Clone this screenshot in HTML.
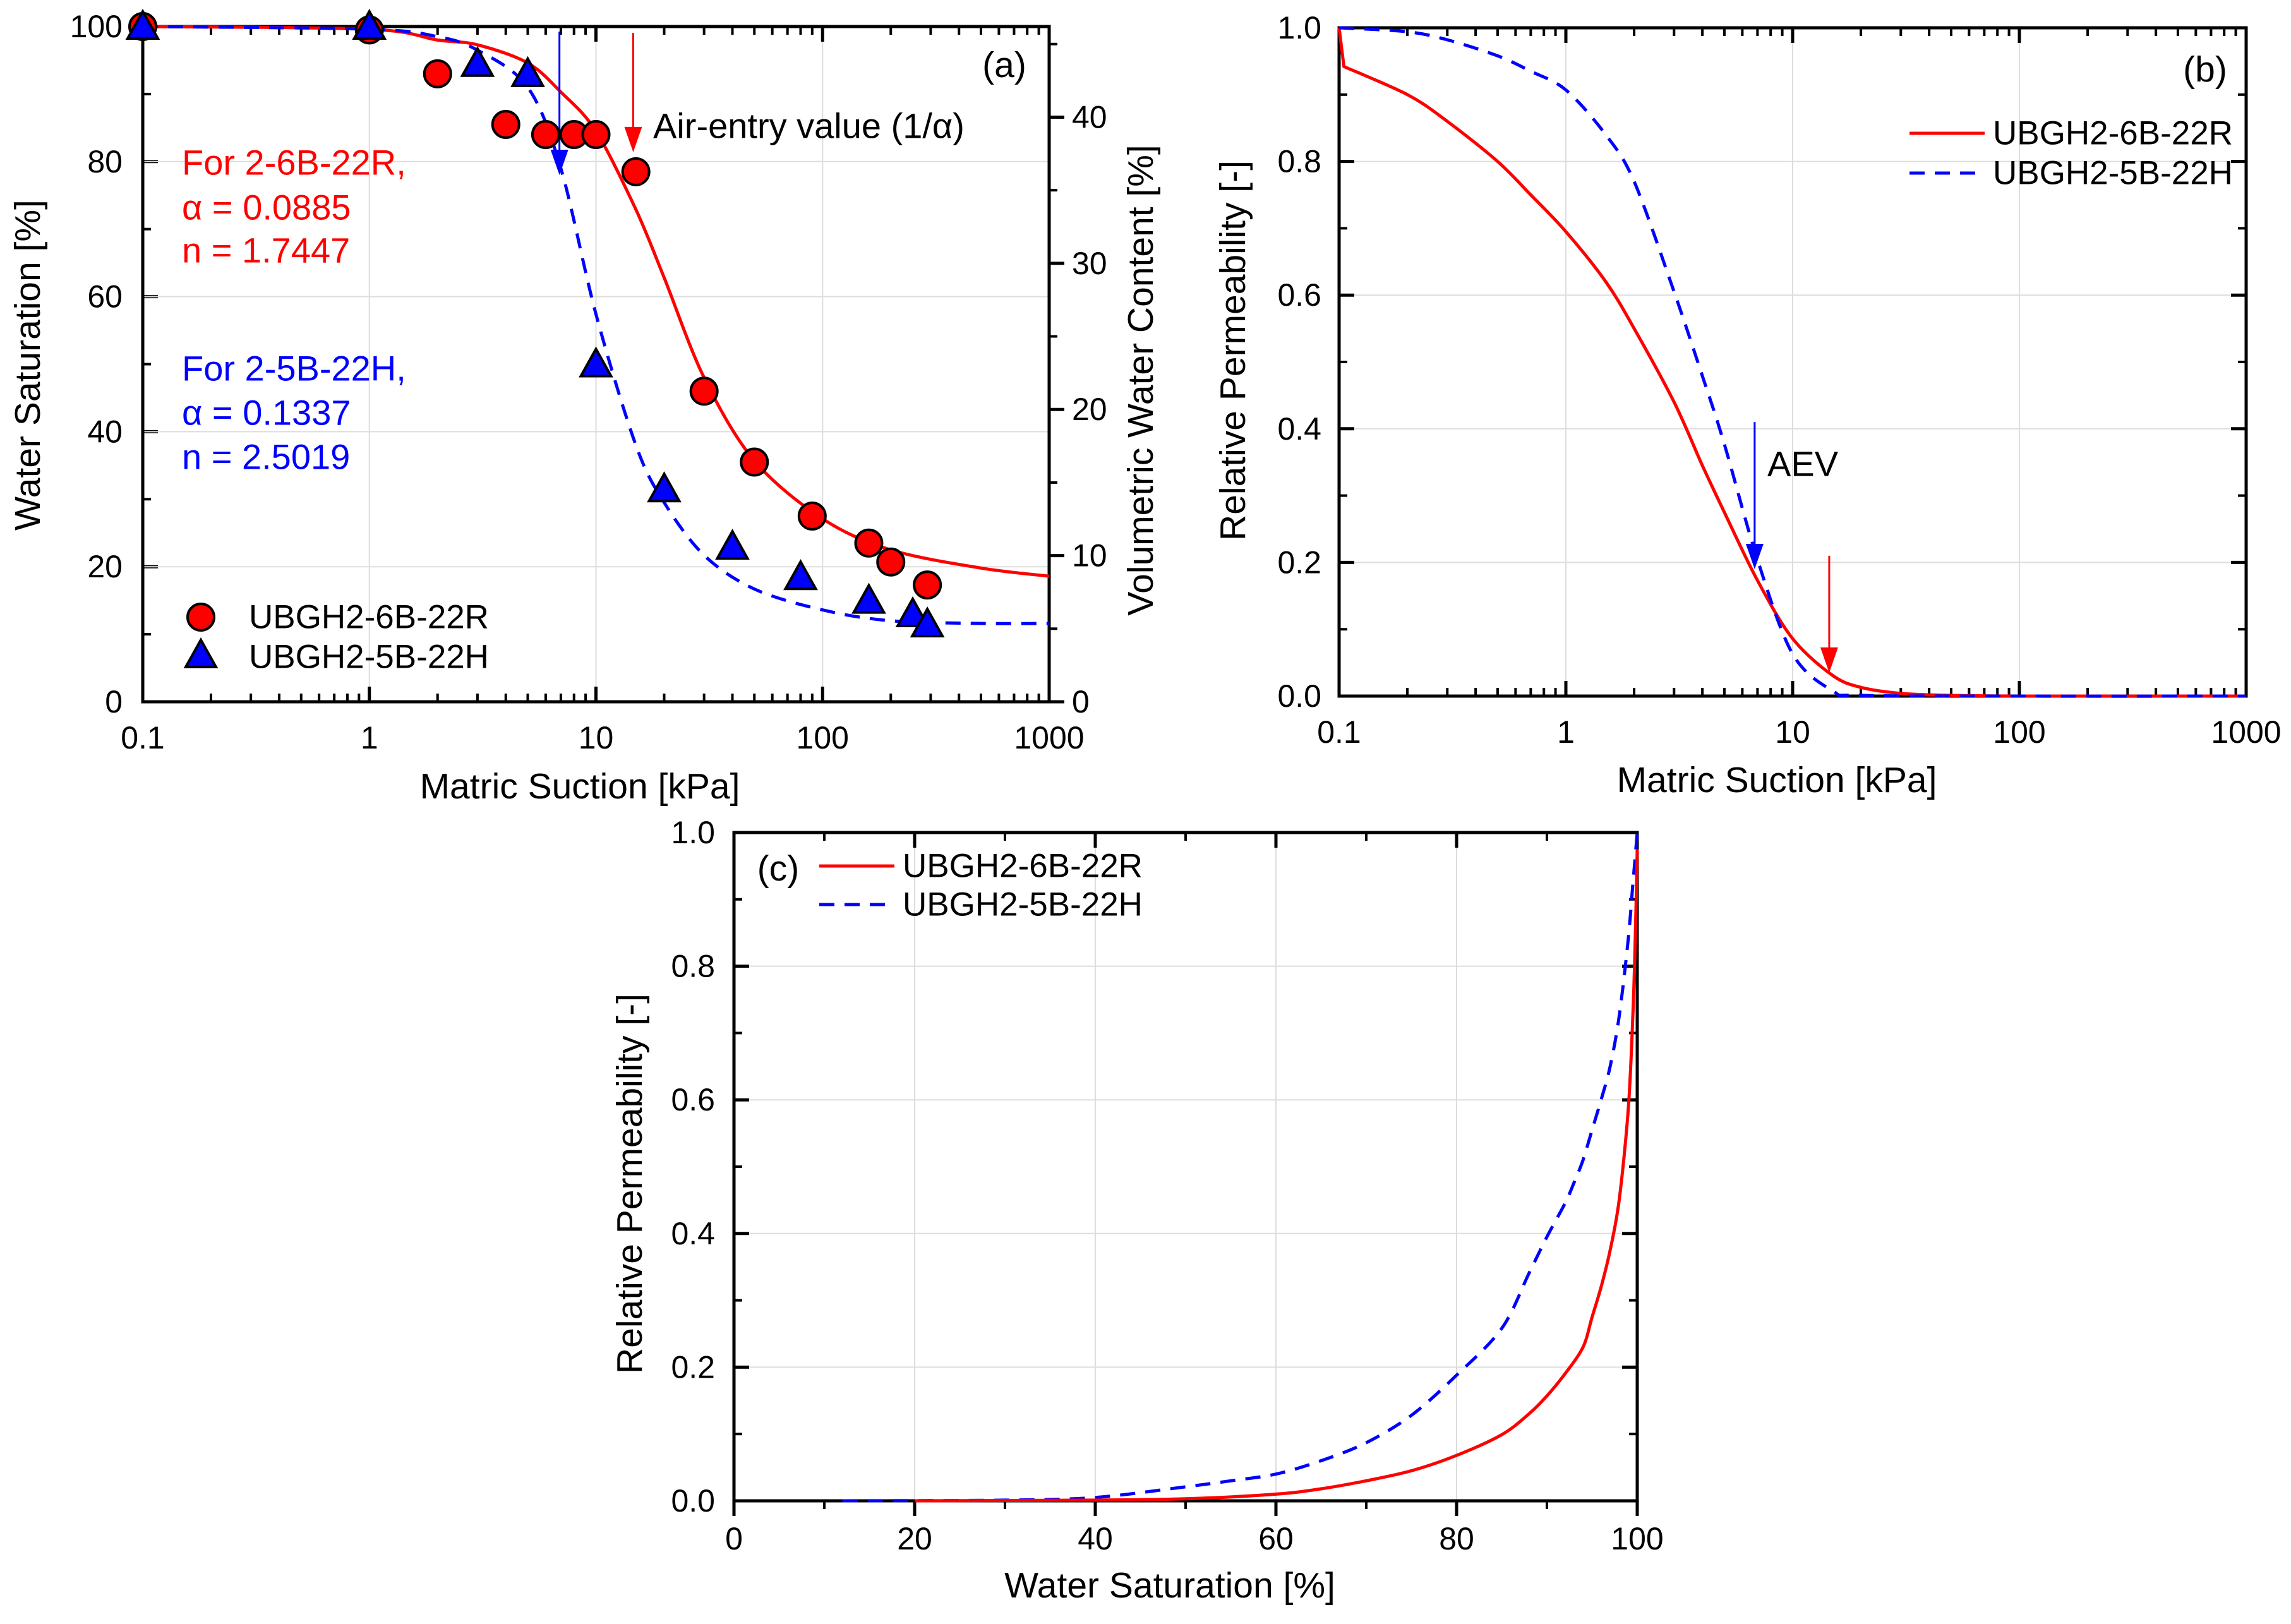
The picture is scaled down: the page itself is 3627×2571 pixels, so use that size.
<!DOCTYPE html>
<html><head><meta charset="utf-8"><style>
html,body{margin:0;padding:0;background:#fff}
svg{display:block;font-family:"Liberation Sans",Arial,sans-serif}
</style></head><body>
<svg id="fig" width="3627" height="2571" viewBox="0 0 3627 2571" xmlns="http://www.w3.org/2000/svg"></svg>
<script>
// ---- Panel (a) data ----
const aRedPtsX=[0.1,1,2,4,6,8,10,15,30,50,90,160,200,290];
const aRedPtsY=[100,99.5,93,85.5,84,84,84,78.5,46,35.5,27.5,23.5,20.7,17.3];
const aBluPtsX=[0.1,1,3,5,10,20,40,80,160,250,290];
const aBluPtsY=[100,100,94.5,93,50,31.5,23,18.5,15,13,11.5];
const aRedCurveX=[0.1,1,2,3,5,7,10,15,20,30,50,100,200,500,1000];
const aRedCurveY=[100,99.6,98,97.3,94.6,90.3,84.5,72.9,62.8,48,35.7,27.1,22.5,19.8,18.6];
const aBluCurveX=[0.1,1,2,3,5,7,10,15,20,30,50,100,200,500,1000];
const aBluCurveY=[100,99.6,98.5,96.5,91,79,57.4,38,29.5,21.7,16.7,13.6,12,11.6,11.6];
// ---- Panel (b) data ----
const bRedX=[0.1,0.105,0.2,0.3,0.5,0.7,1,1.5,2,3,4,5,7,10,15,20,30,50,100,1000];
const bRedY=[1.0,0.942,0.9,0.86,0.8,0.75,0.695,0.62,0.55,0.44,0.345,0.275,0.173,0.086,0.031,0.013,0.004,0.001,0,0];
const bBluX=[0.1,0.2,0.3,0.5,0.7,1,1.5,2,3,4,5,7,10,15,20,100,1000];
const bBluY=[1.0,0.994,0.982,0.958,0.935,0.907,0.84,0.77,0.605,0.479,0.377,0.204,0.063,0.008,0.001,0,0];
// ---- Panel (c) data ----
const cRedX=[20,40,50,60,65,70,75,80,85,88,90,92,94,95,96,97,98,99,99.5,99.8,100];
const cRedY=[0,0.001,0.003,0.01,0.018,0.03,0.045,0.068,0.099,0.13,0.157,0.19,0.23,0.275,0.32,0.375,0.45,0.585,0.72,0.85,0.975];
const cBluX=[12,30,40,50,55,60,65,70,75,80,85,88,90,92,93,94,95,96,97,98,99,99.5,100];
const cBluY=[0,0.001,0.005,0.021,0.03,0.04,0.06,0.087,0.128,0.188,0.258,0.34,0.395,0.445,0.476,0.51,0.555,0.6,0.65,0.725,0.84,0.92,1.0];
const logTicks=[0.1,1,10,100,1000];
const logTickLabels=["0.1","1","10","100","1000"];
const aYTicks=[0,20,40,60,80,100];
const aY2Ticks=[0,10,20,30,40];
const kTicks=[0,0.2,0.4,0.6,0.8,1.0];
const kTickLabels=["0.0","0.2","0.4","0.6","0.8","1.0"];
const sTicks=[0,20,40,60,80,100];

const NS="http://www.w3.org/2000/svg";
const svg=document.getElementById('fig');
const TICKF=50, TITLEF=57, ANNF=56, LEGF=53;
function mk(tag,attrs,parent){const e=document.createElementNS(NS,tag);for(const k in attrs)e.setAttribute(k,attrs[k]);(parent||svg).appendChild(e);return e;}
function txt(s,x,y,size,fill,anchor,parent,rot){const e=mk('text',{x:x,y:y,'font-size':size,fill:fill||'#000','text-anchor':anchor||'middle','dominant-baseline':'central'},parent);if(rot)e.setAttribute('transform','rotate('+rot+' '+x+' '+y+')');e.textContent=s;return e;}
function logScale(x0,x1,d0,d1){return v=>x0+(Math.log10(v)-Math.log10(d0))/(Math.log10(d1)-Math.log10(d0))*(x1-x0);}
function linScale(p0,p1,d0,d1){return v=>p0+(v-d0)/(d1-d0)*(p1-p0);}
function pathD(xs,ys,sx,sy){
  const P=xs.map((v,i)=>[sx(v),sy(ys[i])]);
  let d='M'+P[0][0].toFixed(1)+' '+P[0][1].toFixed(1);
  for(let i=0;i<P.length-1;i++){
    const p0=P[i-1]||P[i],p1=P[i],p2=P[i+1],p3=P[i+2]||P[i+1];
    const t=0.16;
    const c1=[p1[0]+(p2[0]-p0[0])*t,p1[1]+(p2[1]-p0[1])*t];
    const c2=[p2[0]-(p3[0]-p1[0])*t,p2[1]-(p3[1]-p1[1])*t];
    d+=' C'+c1[0].toFixed(1)+' '+c1[1].toFixed(1)+' '+c2[0].toFixed(1)+' '+c2[1].toFixed(1)+' '+p2[0].toFixed(1)+' '+p2[1].toFixed(1);
  }
  return d;
}
function frame(g,L,R,T,B){mk('rect',{x:L,y:T,width:R-L,height:B-T,fill:'none',stroke:'#000','stroke-width':5},g);}
function logXAxis(g,sx,L,R,T,B,labY){
  for(let d=-1;d<3;d++)for(let m=2;m<10;m++){const x=sx(m*Math.pow(10,d));
    mk('line',{x1:x,y1:B,x2:x,y2:B-13,stroke:'#000','stroke-width':4},g);
    mk('line',{x1:x,y1:T,x2:x,y2:T+13,stroke:'#000','stroke-width':4},g);}
  logTicks.forEach((v,i)=>{const x=sx(v);
    if(i>0&&i<logTicks.length-1)mk('line',{x1:x,y1:T,x2:x,y2:B,stroke:'#ddd','stroke-width':2},g);
    mk('line',{x1:x,y1:B,x2:x,y2:B-24,stroke:'#000','stroke-width':5},g);
    mk('line',{x1:x,y1:T,x2:x,y2:T+24,stroke:'#000','stroke-width':5},g);
    const t=txt(logTickLabels[i],x,labY,TICKF,'#000','middle',g);
    });
}
function linYAxis(g,sy,ticks,labels,L,R,minorStep,d0,d1,labX,grid){
  for(let v=d0;v<=d1+1e-9;v+=minorStep){const y=sy(v);
    mk('line',{x1:L,y1:y,x2:L+13,y2:y,stroke:'#000','stroke-width':4},g);
    if(R!==null)mk('line',{x1:R,y1:y,x2:R-13,y2:y,stroke:'#000','stroke-width':4},g);}
  ticks.forEach((v,i)=>{const y=sy(v);
    if(grid&&i>0&&i<ticks.length-1)mk('line',{x1:L,y1:y,x2:R,y2:y,stroke:'#ddd','stroke-width':2},g);
    mk('line',{x1:L,y1:y,x2:L+24,y2:y,stroke:'#000','stroke-width':5},g);
    if(R!==null)mk('line',{x1:R,y1:y,x2:R-24,y2:y,stroke:'#000','stroke-width':5},g);
    const t=txt(labels[i],labX,y,TICKF,'#000','end',g);
    });
}
function arrow(g,x,y1,y2,color,name){
  mk('line',{x1:x,y1:y1,x2:x,y2:y2-30,stroke:color,'stroke-width':3},g);
  const p=mk('polygon',{points:(x-14)+','+(y2-40)+' '+(x+14)+','+(y2-40)+' '+x+','+y2,fill:color},g);
  
}

// ================= Panel (a) =================
(function(){
const L=226,R=1661,T=42,B=1111;
const g=mk('g',{});
const sx=logScale(L,R,0.1,1000), sy=linScale(B,T,0,100), sy2=linScale(B,T,0,46.2);
linYAxis(g,sy,aYTicks,aYTicks.map(String),L,null,10,0,100,194,false);
aYTicks.forEach((v,i)=>{if(i>0&&i<aYTicks.length-1)mk('line',{x1:L,y1:sy(v),x2:R,y2:sy(v),stroke:'#ddd','stroke-width':2},g);});
logXAxis(g,sx,L,R,T,B,1168);
for(let v=0;v<=45;v+=5){const y=sy2(v);mk('line',{x1:R,y1:y,x2:R+(v%10?13:24),y2:y,stroke:'#000','stroke-width':v%10?4:5},g);}
aY2Ticks.forEach(v=>{const t=txt(String(v),R+36,sy2(v),TICKF,'#000','start',g);});
frame(g,L,R,T,B);
const rc=mk('path',{d:pathD(aRedCurveX,aRedCurveY,sx,sy),fill:'none',stroke:'#ff0000','stroke-width':5,'stroke-linejoin':'round'},g);

const bc=mk('path',{d:pathD(aBluCurveX,aBluCurveY,sx,sy),fill:'none',stroke:'#0000ff','stroke-width':5,'stroke-dasharray':'24,16'},g);

arrow(g,sx(6.9),T+8,sy(78),'#0000ff','aev-arrow-blue');
arrow(g,sx(14.6),T+10,sy(81.4),'#ff0000','aev-arrow-red');
aRedPtsX.forEach((v,i)=>{const c=mk('circle',{cx:sx(v),cy:sy(aRedPtsY[i]),r:21,fill:'#ff0000',stroke:'#000','stroke-width':4},g);
  });
aBluPtsX.forEach((v,i)=>{const x=sx(v),y=sy(aBluPtsY[i]);
  const p=mk('polygon',{points:(x-24)+','+(y+19)+' '+(x+24)+','+(y+19)+' '+x+','+(y-24),fill:'#0000ff',stroke:'#000','stroke-width':4},g);
  });
let t;
t=txt('(a)',1590,103,TITLEF,'#000','middle',g);
t=txt('Air-entry value (1/α)',1034,199,ANNF,'#000','start',g);
[['For 2-6B-22R,',257,'#ff0000'],['α = 0.0885',328,'#ff0000'],['n = 1.7447',396,'#ff0000'],['For 2-5B-22H,',583,'#0000ff'],['α = 0.1337',653,'#0000ff'],['n = 2.5019',723,'#0000ff']].forEach(a=>{
  const e=txt(a[0],288,a[1],ANNF,a[2],'start',g);});
let lc=mk('circle',{cx:318,cy:977,r:21,fill:'#ff0000',stroke:'#000','stroke-width':4},g);
let lt=mk('polygon',{points:'294,1056 342,1056 318,1013',fill:'#0000ff',stroke:'#000','stroke-width':4},g);
t=txt('UBGH2-6B-22R',394,977,LEGF,'#000','start',g);
t=txt('UBGH2-5B-22H',394,1040,LEGF,'#000','start',g);
t=txt('Matric Suction [kPa]',918,1245,TITLEF,'#000','middle',g);
t=txt('Water Saturation [%]',44,578,TITLEF,'#000','middle',g,-90);
t=txt('Volumetric Water Content [%]',1806,602,TITLEF,'#000','middle',g,-90);
})();

// ================= Panel (b) =================
(function(){
const L=2120,R=3556,T=44,B=1102;
const g=mk('g',{});
const sx=logScale(L,R,0.1,1000), sy=linScale(B,T,0,1);
linYAxis(g,sy,kTicks,kTickLabels,L,R,0.1,0,1,2092,true);
logXAxis(g,sx,L,R,T,B,1159);
frame(g,L,R,T,B);
const rc=mk('path',{d:'M'+sx(bRedX[0])+' '+sy(bRedY[0])+' L'+sx(bRedX[1])+' '+sy(bRedY[1])+pathD(bRedX.slice(1),bRedY.slice(1),sx,sy).replace(/^M[^C]*/,' '),fill:'none',stroke:'#ff0000','stroke-width':5,'stroke-linejoin':'round'},g);

const bc=mk('path',{d:pathD(bBluX,bBluY,sx,sy),fill:'none',stroke:'#0000ff','stroke-width':5,'stroke-dasharray':'24,16'},g);

arrow(g,sx(6.8),sy(0.41),sy(0.19),'#0000ff','aev-arrow-blue-b');
arrow(g,sx(14.5),sy(0.21),sy(0.035),'#ff0000','aev-arrow-red-b');
let t;
t=txt('AEV',2798,734,ANNF,'#000','start',g);
t=txt('(b)',3491,110,TITLEF,'#000','middle',g);
let l=mk('line',{x1:3023,y1:211,x2:3142,y2:211,stroke:'#ff0000','stroke-width':5},g);
l=mk('line',{x1:3023,y1:274,x2:3142,y2:274,stroke:'#0000ff','stroke-width':5,'stroke-dasharray':'24,16'},g);
t=txt('UBGH2-6B-22R',3155,211,LEGF,'#000','start',g);
t=txt('UBGH2-5B-22H',3155,274,LEGF,'#000','start',g);
t=txt('Matric Suction [kPa]',2813,1235,TITLEF,'#000','middle',g);
t=txt('Relative Permeability [-]',1952,555,TITLEF,'#000','middle',g,-90);
})();

// ================= Panel (c) =================
(function(){
const L=1162,R=2592,T=1318,B=2376;
const g=mk('g',{});
const sx=linScale(L,R,0,100), sy=linScale(B,T,0,1);
linYAxis(g,sy,kTicks,kTickLabels,L,R,0.1,0,1,1132,true);
for(let v=0;v<=100;v+=10){const x=sx(v),maj=v%20===0;
  if(maj&&v>0&&v<100)mk('line',{x1:x,y1:T,x2:x,y2:B,stroke:'#ddd','stroke-width':2},g);
  mk('line',{x1:x,y1:B,x2:x,y2:B+(maj?24:13),stroke:'#000','stroke-width':maj?5:4},g);
  mk('line',{x1:x,y1:T,x2:x,y2:T+(maj?24:13),stroke:'#000','stroke-width':maj?5:4},g);}
sTicks.forEach(v=>{const t=txt(String(v),sx(v),2436,TICKF,'#000','middle',g);});
frame(g,L,R,T,B);
const bc=mk('path',{d:pathD(cBluX,cBluY,sx,sy),fill:'none',stroke:'#0000ff','stroke-width':5,'stroke-dasharray':'24,16'},g);

const rc=mk('path',{d:pathD(cRedX,cRedY,sx,sy),fill:'none',stroke:'#ff0000','stroke-width':5,'stroke-linejoin':'round'},g);

let t;
t=txt('(c)',1232,1375,TITLEF,'#000','middle',g);
let l=mk('line',{x1:1297,y1:1371,x2:1416,y2:1371,stroke:'#ff0000','stroke-width':5},g);
l=mk('line',{x1:1297,y1:1432,x2:1416,y2:1432,stroke:'#0000ff','stroke-width':5,'stroke-dasharray':'24,16'},g);
t=txt('UBGH2-6B-22R',1429,1371,LEGF,'#000','start',g);
t=txt('UBGH2-5B-22H',1429,1432,LEGF,'#000','start',g);
t=txt('Water Saturation [%]',1852,2510,TITLEF,'#000','middle',g);
t=txt('Relative Permeability [-]',997,1874,TITLEF,'#000','middle',g,-90);
})();
</script>
</body></html>
